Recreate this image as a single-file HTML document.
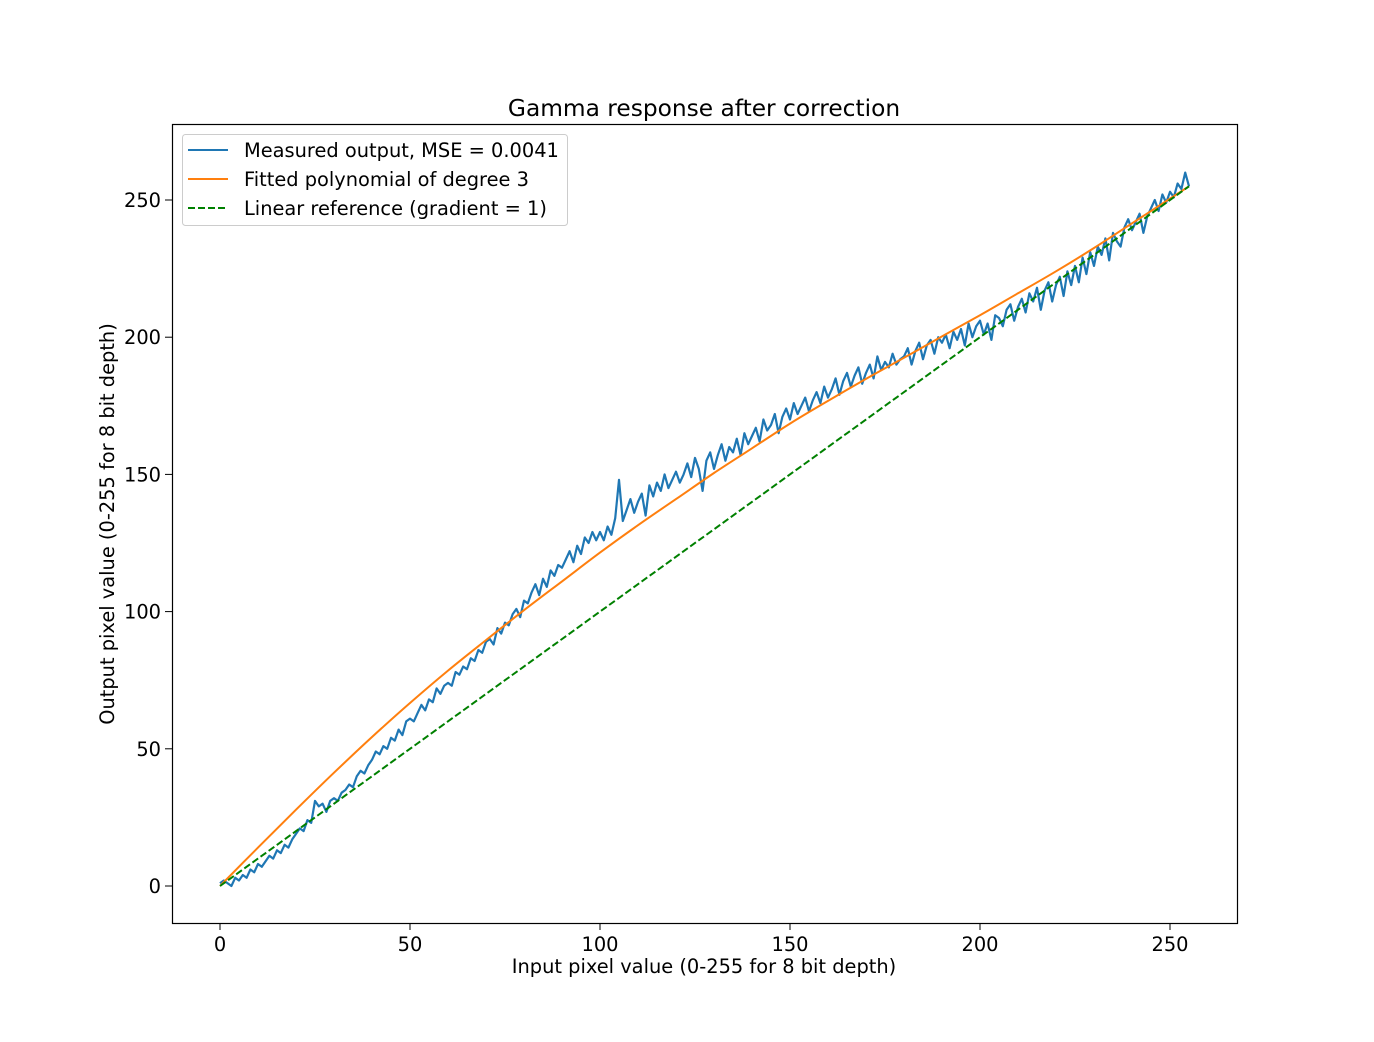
<!DOCTYPE html>
<html><head><meta charset="utf-8"><style>
html,body{margin:0;padding:0;background:#fff;}
svg text{font-family:"DejaVu Sans","Liberation Sans",sans-serif;fill:#000;}
</style></head><body>
<svg id="chart" width="1374" height="1037" xmlns="http://www.w3.org/2000/svg">
<rect width="1374" height="1037" fill="#fff"/>
<text x="704" y="116" font-size="23.3" text-anchor="middle">Gamma response after correction</text>
<g id="plot"></g>
<rect x="172.5" y="124.5" width="1065" height="799" fill="none" stroke="#000" stroke-width="1.2"/>
<g id="ticks"></g>
<text x="704" y="973" font-size="19.4" text-anchor="middle">Input pixel value (0-255 for 8 bit depth)</text>
<text transform="translate(114,524) rotate(-90)" font-size="19.4" text-anchor="middle">Output pixel value (0-255 for 8 bit depth)</text>
<g>
<rect x="182.5" y="134.5" width="385" height="91" rx="3" fill="#fff" fill-opacity="0.8" stroke="#ccc"/>
<line x1="188" y1="150" x2="228" y2="150" stroke="#1f77b4" stroke-width="2"/>
<text x="244" y="157" font-size="19.4">Measured output, MSE = 0.0041</text>
<line x1="188" y1="179" x2="228" y2="179" stroke="#ff7f0e" stroke-width="2"/>
<text x="244" y="186" font-size="19.4">Fitted polynomial of degree 3</text>
<line x1="188" y1="208" x2="228" y2="208" stroke="#008000" stroke-width="2" stroke-dasharray="7,3"/>
<text x="244" y="215" font-size="19.4">Linear reference (gradient = 1)</text>
</g>
</svg>
<script>
const xTicks=[0,50,100,150,200,250];
const yTicks=[0,50,100,150,200,250];
const measured=[1,2,1,0,3,2,4,3,6,5,
8,7,9,11,10,13,12,15,14,17,
19,21,20,24,23,31,29,30,27,31,
32,31,34,35,37,36,40,42,41,44,
46,49,48,51,50,54,53,57,55,60,
61,60,63,66,64,68,67,72,70,73,
74,73,78,77,80,79,83,82,86,85,
89,90,88,94,92,96,95,99,101,98,
104,103,107,110,106,112,109,115,113,117,
116,119,122,118,124,121,127,125,129,126,
129,126,131,128,134,148,133,137,141,136,
140,143,135,146,142,147,144,150,145,148,
151,147,150,154,149,156,152,144,155,158,
152,157,161,155,160,158,163,157,165,161,
164,167,162,170,166,168,172,165,171,174,
170,176,172,175,178,173,177,180,176,182,
178,181,185,179,184,187,182,186,189,183,
187,190,185,193,188,191,189,194,190,192,
193,196,190,195,198,192,197,199,194,200,
198,201,196,202,199,203,197,205,200,204,
206,201,205,199,208,207,204,210,212,206,
211,214,209,216,213,218,210,217,220,213,
219,222,215,224,219,226,220,229,223,231,
226,233,230,236,228,238,235,233,240,243,
239,242,245,238,244,247,250,246,252,249,
253,251,256,254,260,255];
const fitX=[0,10,20,30,40,50,60,70,80,90,100,110,120,130,140,150,160,170,180,190,200,210,220,230,240,250,255];
const fitY=[0,14,27.8,41.3,54.3,66.7,78.5,89.6,100.5,111,121.5,131.5,141,150.5,159.5,168.5,176.8,184.8,192.5,200.3,208,216,224,232.5,241.5,250.5,255];
const linX=[0,255];
const linY=[0,255];
const X=v=>220+v*3.8;
const Y=v=>886-v*2.744;
const NS='http://www.w3.org/2000/svg';
const plot=document.getElementById('plot');
const ticks=document.getElementById('ticks');
function mk(tag,attrs,parent){const e=document.createElementNS(NS,tag);for(const k in attrs)e.setAttribute(k,attrs[k]);parent.appendChild(e);return e;}
let d=measured.map((v,i)=>(i?'L':'M')+X(i).toFixed(1)+','+Y(v).toFixed(1)).join('');
const lm=mk('path',{d:d,fill:'none',stroke:'#1f77b4','stroke-width':2.2,'stroke-linejoin':'round'},plot);


d='M'+X(fitX[0])+','+Y(fitY[0]);
for(let i=1;i<fitX.length;i++){
 const p0=i>1?i-2:0, p3=i<fitX.length-1?i+1:i;
 const x0=X(fitX[p0]),y0=Y(fitY[p0]),x1=X(fitX[i-1]),y1=Y(fitY[i-1]),x2=X(fitX[i]),y2=Y(fitY[i]),x3=X(fitX[p3]),y3=Y(fitY[p3]);
 d+='C'+(x1+(x2-x0)/6).toFixed(1)+','+(y1+(y2-y0)/6).toFixed(1)+' '+(x2-(x3-x1)/6).toFixed(1)+','+(y2-(y3-y1)/6).toFixed(1)+' '+x2.toFixed(1)+','+y2.toFixed(1);
}
const lf=mk('path',{d:d,fill:'none',stroke:'#ff7f0e','stroke-width':2},plot);


d=linX.map((v,i)=>(i?'L':'M')+X(v).toFixed(1)+','+Y(linY[i]).toFixed(1)).join('');
const ll=mk('path',{d:d,fill:'none',stroke:'#008000','stroke-width':2,'stroke-dasharray':'7,3'},plot);


xTicks.forEach(t=>{
 mk('line',{x1:X(t),x2:X(t),y1:923,y2:930,stroke:'#000'},ticks);
 const tx=mk('text',{x:X(t),y:951,'font-size':19.4,'text-anchor':'middle'},ticks);
 tx.textContent=t;
 
 
});
yTicks.forEach(t=>{
 mk('line',{x1:165,x2:172,y1:Y(t),y2:Y(t),stroke:'#000'},ticks);
 const tx=mk('text',{x:161,y:Y(t)+7,'font-size':19.4,'text-anchor':'end'},ticks);
 tx.textContent=t;
 
 
});
</script>
</body></html>
